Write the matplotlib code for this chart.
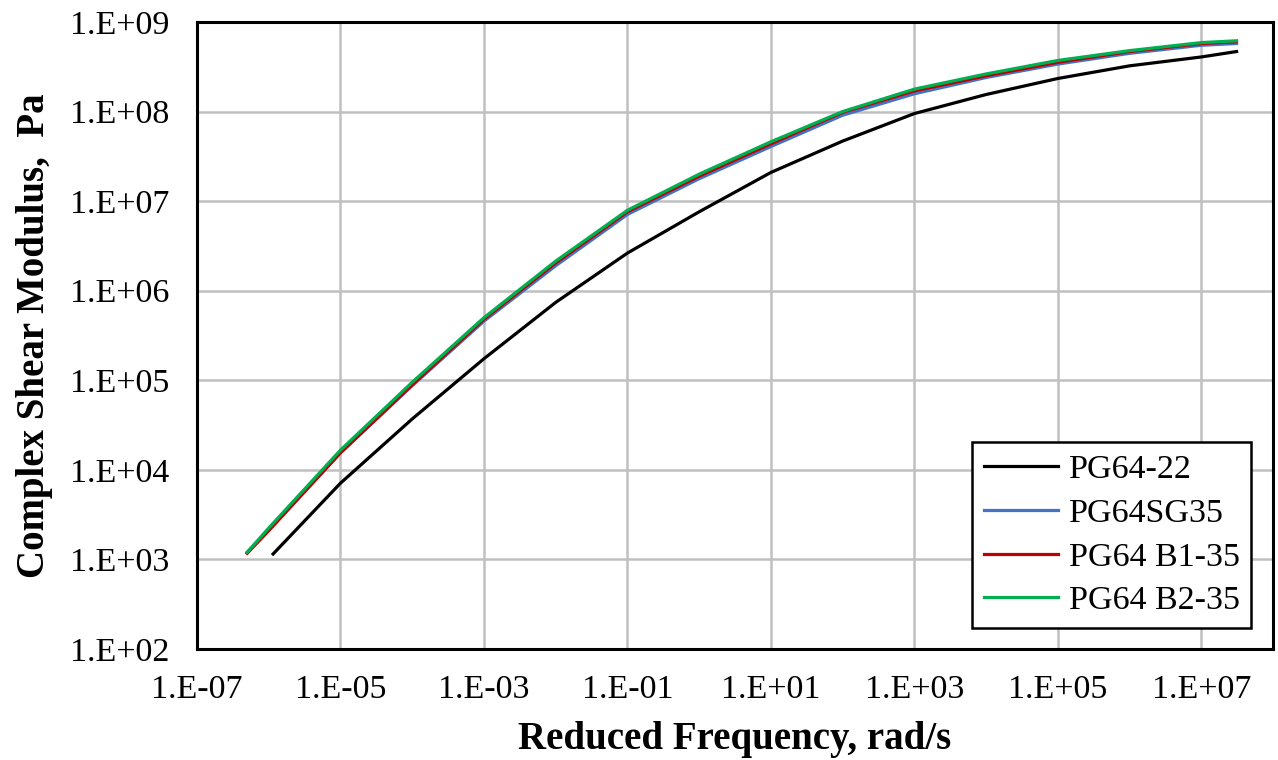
import matplotlib
matplotlib.use("Agg")
import matplotlib.pyplot as plt
from matplotlib.ticker import FixedLocator, FixedFormatter

# Reduced frequency, rad/s
freq = [5.0e-7, 1e-6, 1e-5, 1e-4, 1e-3, 1e-2, 1e-1, 1e0, 1e1, 1e2, 1e3, 1e4, 1e5, 1e6, 1e7, 3.1e7]
freq_pg6422 = [1.15e-6, 1e-5, 1e-4, 1e-3, 1e-2, 1e-1, 1e0, 1e1, 1e2, 1e3, 1e4, 1e5, 1e6, 1e7, 3.1e7]

# Complex shear modulus, Pa
g_pg6422 = [1.15e3, 7.1e3, 3.7e4, 1.74e5, 7.4e5, 2.63e6, 7.6e6, 2.09e7, 4.68e7, 9.5e7,
            1.55e8, 2.34e8, 3.24e8, 4.07e8, 4.68e8]
g_sg35 = [1.2e3, 2.14e3, 1.55e4, 8.7e4, 4.57e5, 1.9e6, 7.1e6, 1.78e7, 4.07e7, 9.1e7,
          1.58e8, 2.4e8, 3.39e8, 4.47e8, 5.5e8, 5.75e8]
g_b135 = [1.17e3, 2.09e3, 1.55e4, 8.9e4, 4.8e5, 2.04e6, 7.6e6, 1.9e7, 4.37e7, 9.8e7,
          1.7e8, 2.51e8, 3.55e8, 4.68e8, 5.75e8, 6.03e8]
g_b235 = [1.2e3, 2.24e3, 1.66e4, 9.5e4, 5.0e5, 2.14e6, 7.9e6, 2.0e7, 4.6e7, 1.0e8,
          1.78e8, 2.63e8, 3.72e8, 4.79e8, 5.89e8, 6.17e8]

x_ticks = [1e-7, 1e-5, 1e-3, 1e-1, 1e1, 1e3, 1e5, 1e7]
x_labels = ["1.E-07", "1.E-05", "1.E-03", "1.E-01", "1.E+01", "1.E+03", "1.E+05", "1.E+07"]
y_ticks = [1e2, 1e3, 1e4, 1e5, 1e6, 1e7, 1e8, 1e9]
y_labels = ["1.E+02", "1.E+03", "1.E+04", "1.E+05", "1.E+06", "1.E+07", "1.E+08", "1.E+09"]

plt.rcParams['font.family'] = ['Liberation Serif', 'DejaVu Serif']

fig = plt.figure(figsize=(12.78, 7.6), dpi=100)
ax = fig.add_axes([197 / 1278, 1 - 649 / 760, (1273 - 197) / 1278, (649 - 22) / 760])

lw = 2.3
ax.plot(freq_pg6422, g_pg6422, color='black', lw=lw, label="PG64-22", solid_joinstyle='round')
ax.plot(freq, g_sg35, color='#4472C4', lw=lw, label="PG64SG35", solid_joinstyle='round')
ax.plot(freq, g_b135, color='#C00000', lw=lw, label="PG64 B1-35", solid_joinstyle='round')
ax.plot(freq, g_b235, color='#00B050', lw=lw, label="PG64 B2-35", solid_joinstyle='round')

ax.set_xscale('log')
ax.set_yscale('log')
ax.set_xlim(1e-7, 1e8)
ax.set_ylim(1e2, 1e9)

ax.xaxis.set_major_locator(FixedLocator(x_ticks))
ax.xaxis.set_major_formatter(FixedFormatter(x_labels))
ax.yaxis.set_major_locator(FixedLocator(y_ticks))
ax.yaxis.set_major_formatter(FixedFormatter(y_labels))
ax.minorticks_off()
ax.tick_params(axis='both', length=0, labelsize=24.5)
ax.tick_params(axis='x', pad=18)
ax.tick_params(axis='y', pad=20)

ax.grid(True, color='#c0c0c0', lw=1.8)
ax.set_axisbelow(True)
for s in ax.spines.values():
    s.set_linewidth(2.2)
    s.set_color('black')

ax.set_xlabel("Reduced Frequency, rad/s", fontsize=28, fontweight='bold', labelpad=12)
ax.set_ylabel("Complex Shear Modulus,  Pa", fontsize=28, fontweight='bold', labelpad=12)

leg = ax.legend(loc='lower right', bbox_to_anchor=(0.980, 0.033), borderaxespad=0,
                fontsize=24.5, frameon=True, fancybox=False, edgecolor='black',
                handlelength=2.2, handletextpad=0.3, labelspacing=0.38,
                borderpad=0.35)
leg.get_frame().set_linewidth(1.8)
leg.get_frame().set_alpha(1)

fig.savefig("out.png", dpi=100)
